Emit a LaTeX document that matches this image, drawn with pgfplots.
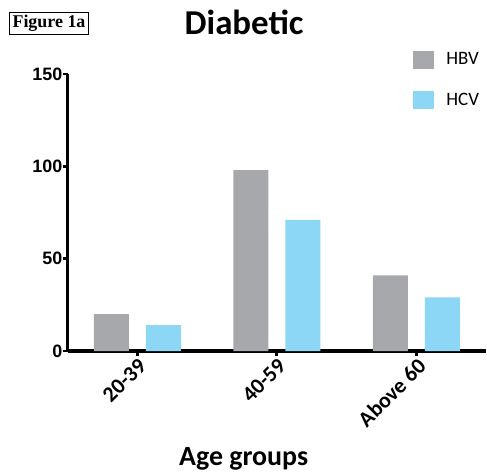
\documentclass[border=0pt]{standalone}
\usepackage{fontspec}
\usepackage{pgfplots}
\pgfplotsset{compat=1.18}
\setmainfont{Carlito}
\newfontfamily\arialfont{Liberation Sans}
\newfontfamily\timesfont{Liberation Serif}
\newfontfamily\carlitobold{Carlito}[UprightFont=*-Bold]
\definecolor{hbv}{HTML}{A7A8AC}
\definecolor{hcv}{HTML}{8DD7F6}

\begin{document}
\begin{tikzpicture}
\path[use as bounding box] (0,0) rectangle (487bp,473bp);
% panel tag
\node[draw, line width=1.4bp, inner xsep=3bp, inner ysep=3bp, font=\timesfont\bfseries\fontsize{18}{18}\selectfont]
  at (49bp,449.5bp) {Figure 1a};
\begin{axis}[
  at={(67.5bp,122bp)}, anchor=south west,
  scale only axis, width=418.5bp, height=277bp,
  xmin=-0.5, xmax=2.5, ymin=0, ymax=150,
  axis lines=left,
  axis line style={-, line width=3.8bp},
  clip=false,
  xtick={0,1,2},
  xticklabels={20-39,40-59,Above 60},
  ytick={0,50,100,150},
  yticklabels={0,50,100,150},
  tick align=outside,
  major tick length=4.5bp,
  tick style={black, line width=2.8bp},
  yticklabel style={font=\arialfont\bfseries\fontsize{18}{18}\selectfont, inner xsep=0.5bp},
  xticklabel style={font=\carlitobold\fontsize{22}{22}\selectfont, rotate=45, anchor=north east, inner sep=1bp},
  xlabel={Age groups},
  xlabel style={at={(axis description cs:0.421,-0.415)}, anchor=base, font=\bfseries\fontsize{28}{28}\selectfont},
  title={Diabetic},
  title style={at={(axis description cs:0.422,1.12)}, anchor=base, font=\bfseries\fontsize{35}{35}\selectfont},
  legend style={at={(axis description cs:0.826,1.085)}, anchor=north west, draw=none, fill=none,
    inner sep=0pt, row sep=22bp, font=\fontsize{19}{19}\selectfont,
    nodes={inner xsep=12bp, inner ysep=0pt}},
  legend cell align=left,
  legend image code/.code={\fill[#1] (0bp,-9bp) rectangle (21bp,9bp);},
]
\addplot[ybar, bar width=35bp, bar shift=-26bp, fill=hbv, draw=none]
  coordinates {(0,20) (1,98) (2,41)};
\addlegendentry{HBV}
\addplot[ybar, bar width=35bp, bar shift=26bp, fill=hcv, draw=none]
  coordinates {(0,14) (1,71) (2,29)};
\addlegendentry{HCV}
\end{axis}
\end{tikzpicture}
\end{document}
